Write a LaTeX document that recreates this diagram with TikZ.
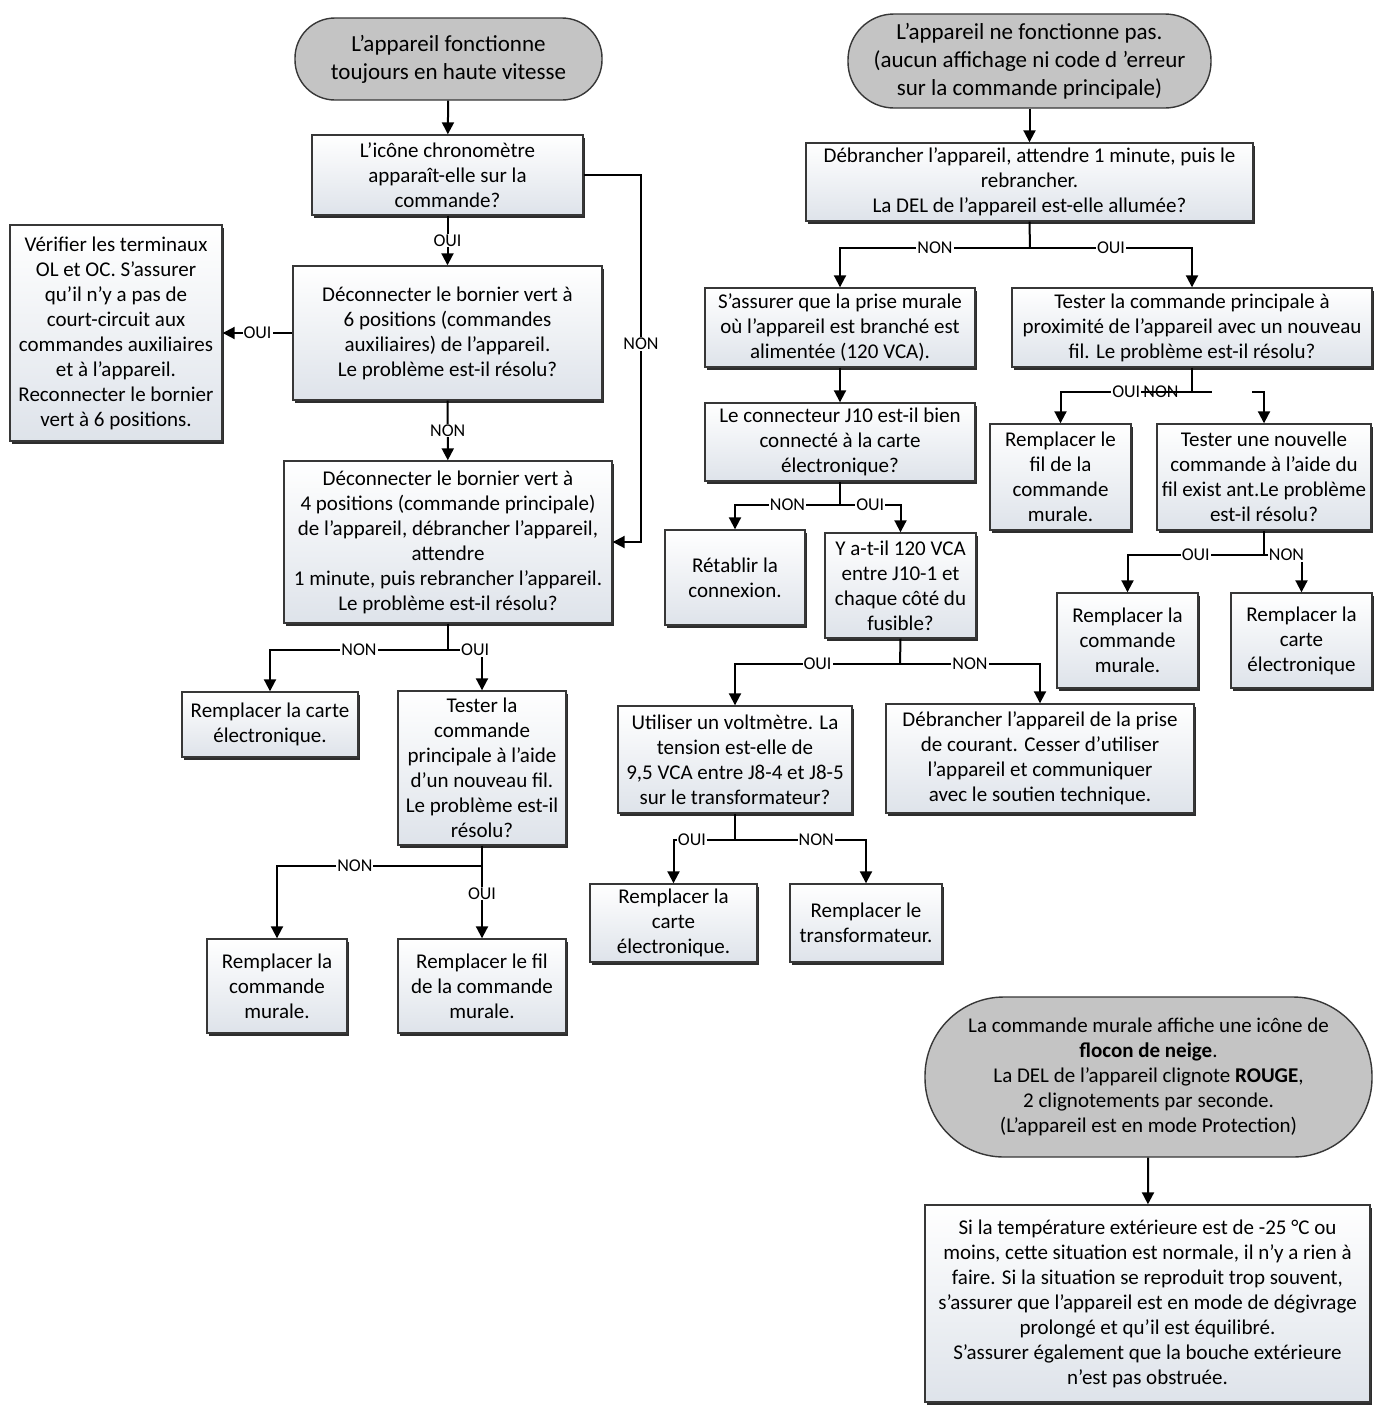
\documentclass[tikz,border=0pt]{standalone}
\usepackage{fontspec}
\setmainfont{Carlito}
\usetikzlibrary{arrows.meta,shadows}
\definecolor{termgray}{RGB}{196,196,196}
\definecolor{boxshade}{RGB}{222,227,234}
\definecolor{boxline}{RGB}{55,55,55}
\definecolor{shadowgray}{RGB}{45,45,45}

\begin{document}
\begin{tikzpicture}[x=1pt, y=-1pt, font=\fontsize{21}{25}\selectfont,
  box/.style={draw=boxline, line width=1.4pt, top color=white, bottom color=boxshade,
    general shadow={fill=shadowgray, shadow xshift=2pt, shadow yshift=-2.5pt},
    align=center, inner sep=2pt},
  term/.style={draw=boxline, line width=1.4pt, fill=termgray, align=center, inner sep=2pt},
  bigterm/.style={term, font=\fontsize{23}{28}\selectfont},
  wire/.style={line width=2pt},
  arr/.style={wire, -{Triangle[length=12pt,width=12pt]}},
  lbl/.style={fill=white, inner sep=1pt, font=\fontsize{18}{20}\selectfont}]
  \useasboundingbox[fill=white] (0,0) rectangle (1384,1409);
  % left: haute vitesse
  \node[bigterm, rounded corners=40pt, minimum width=307pt, minimum height=82pt] (t1) at (448.5, 59) {L’appareil fonctionne\\toujours en haute vitesse};
  \node[box, minimum width=271pt, minimum height=80pt] (b1) at (447.5, 175) {L’icône chronomètre\\apparaît-elle sur la\\commande?};
  \node[box, minimum width=212pt, minimum height=216pt] (b2) at (116, 333) {Vérifier les terminaux\\OL et OC. S’assurer\\qu’il n’y a pas de\\court-circuit aux\\commandes auxiliaires\\et à l’appareil.\\Reconnecter le bornier\\vert à 6 positions.};
  \node[box, minimum width=309pt, minimum height=134pt] (b3) at (447.5, 333) {Déconnecter le bornier vert à\\6 positions (commandes\\auxiliaires) de l’appareil.\\Le problème est-il résolu?};
  \node[box, minimum width=328pt, minimum height=162pt] (b4) at (448, 542) {Déconnecter le bornier vert à\\4 positions (commande principale)\\de l’appareil, débrancher l’appareil,\\attendre\\1 minute, puis rebrancher l’appareil.\\Le problème est-il résolu?};
  \node[box, minimum width=176pt, minimum height=65pt] (b5) at (270, 724.5) {Remplacer la carte\\électronique.};
  \node[box, minimum width=168pt, minimum height=154pt] (b6) at (482, 768) {Tester la\\commande\\principale à l’aide\\d’un nouveau fil.\\Le problème est-il\\résolu?};
  \node[box, minimum width=140pt, minimum height=94pt] (b7) at (277, 986) {Remplacer la\\commande\\murale.};
  \node[box, minimum width=168pt, minimum height=94pt] (b8) at (482, 986) {Remplacer le fil\\de la commande\\murale.};
  \coordinate (n1) at (641, 175);
  \coordinate (j4) at (448, 650);
  \coordinate (j6) at (482, 866);
  \draw[arr] (t1) -- (b1);
  \draw[arr] (b1) -- node[lbl]{OUI} (b3);
  \draw[arr] (b1.east) -- (n1) |- node[lbl, pos=.23]{NON} (b4.east);
  \draw[arr] (b3.west) -- node[lbl]{OUI} (b2.east);
  \draw[arr] (b3) -- node[lbl]{NON} (b4);
  \draw[wire] (b4.south) -- (j4);
  \draw[arr] (j4) -| node[lbl, pos=.25]{NON} (b5.north);
  \draw[arr] (j4) -| node[lbl, pos=.4]{OUI} (b6.north);
  \draw[wire] (b6.south) -- (j6);
  \draw[arr] (j6) -| node[lbl, pos=.31]{NON} (b7.north);
  \draw[arr] (j6) -- node[lbl, pos=.38]{OUI} (b8.north);
  % right: ne fonctionne pas
  \node[bigterm, rounded corners=46pt, minimum width=363pt, minimum height=94pt] (t2) at (1029.5, 61) {L’appareil ne fonctionne pas.\\(aucun affichage ni code d ’erreur\\sur la commande principale)};
  \node[box, minimum width=447pt, minimum height=78pt] (c1) at (1029.5, 182) {Débrancher l’appareil, attendre 1 minute, puis le\\rebrancher.\\La DEL de l’appareil est-elle allumée?};
  \node[box, minimum width=270pt, minimum height=79pt] (c2) at (840, 327.5) {S’assurer que la prise murale\\où l’appareil est branché est\\alimentée (120 VCA).};
  \node[box, minimum width=360pt, minimum height=79pt] (c3) at (1192, 327.5) {Tester la commande principale à\\proximité de l’appareil avec un nouveau\\fil. Le problème est-il résolu?};
  \node[box, minimum width=270pt, minimum height=78pt] (c4) at (840, 442) {Le connecteur J10 est-il bien\\connecté à la carte\\électronique?};
  \node[box, minimum width=140pt, minimum height=95pt] (c5) at (735, 577.5) {Rétablir la\\connexion.};
  \node[box, minimum width=151pt, minimum height=105pt] (c6) at (900.5, 585.5) {Y a-t-il 120 VCA\\entre J10-1 et\\chaque côté du\\fusible?};
  \node[box, minimum width=234pt, minimum height=107pt] (c7) at (735, 759.5) {Utiliser un voltmètre. La\\tension est-elle de\\9,5 VCA entre J8-4 et J8-5\\sur le transformateur?};
  \node[box, minimum width=308pt, minimum height=109pt] (c8) at (1040, 758.5) {Débrancher l’appareil de la prise\\de courant. Cesser d’utiliser\\l’appareil et communiquer\\avec le soutien technique.};
  \node[box, minimum width=167pt, minimum height=78pt] (c9) at (673.5, 923) {Remplacer la\\carte\\électronique.};
  \node[box, minimum width=152pt, minimum height=78pt] (c10) at (866, 923) {Remplacer le\\transformateur.};
  \node[box, minimum width=141pt, minimum height=106pt] (c11) at (1060.5, 477) {Remplacer le\\fil de la\\commande\\murale.};
  \node[box, minimum width=214pt, minimum height=106pt, inner xsep=0pt] (c12) at (1264, 477) {Tester une nouvelle\\commande à l’aide du\\fil exist ant.Le problème\\est-il résolu?};
  \node[box, minimum width=141pt, minimum height=95pt] (c13) at (1127.5, 640.5) {Remplacer la\\commande\\murale.};
  \node[box, minimum width=141pt, minimum height=95pt] (c14) at (1301.5, 640.5) {Remplacer la\\carte\\électronique};
  \coordinate (jc1) at (1030, 248);
  \coordinate (jc3) at (1192, 392);
  \coordinate (kc3) at (1212, 392);
  \coordinate (mc3) at (1252, 392);
  \coordinate (jc4) at (840, 505);
  \coordinate (jc6) at (900, 664);
  \coordinate (jc7) at (735, 840);
  \coordinate (jc12) at (1264, 555);
  \draw[arr] (t2) -- (c1);
  \draw[wire] (c1.south) -- (jc1);
  \draw[arr] (jc1) -| node[lbl, pos=.25]{NON} (c2.north);
  \draw[arr] (jc1) -| node[lbl, pos=.25]{OUI} (c3.north);
  \draw[arr] (c2) -- (c4);
  \draw[wire] (c3.south) -- (jc3) -- (kc3);
  \draw[arr] (jc3) -| node[lbl, pos=.25]{OUI} (c11.north);
  \node[font=\fontsize{18}{20}\selectfont] (nc3) at (1161, 392) {NON};
  \draw[arr] (mc3) -| (c12.north);
  \draw[wire] (c4.south) -- (jc4);
  \draw[arr] (jc4) -| node[lbl, pos=.25]{NON} (c5.north);
  \draw[arr] (jc4) -| node[lbl, pos=.25]{OUI} (c6.north);
  \draw[wire] (c6.south) -- (jc6);
  \draw[arr] (jc6) -| node[lbl, pos=.25]{OUI} (c7.north);
  \draw[arr] (jc6) -| node[lbl, pos=.25]{NON} (c8.north);
  \draw[wire] (c7.south) -- (jc7);
  \draw[arr] (jc7) -| node[lbl, pos=.35]{OUI} (c9.north);
  \draw[arr] (jc7) -| node[lbl, pos=.31]{NON} (c10.north);
  \draw[wire] (c12.south) -- (jc12);
  \draw[arr] (jc12) -| node[lbl, pos=.25]{OUI} (c13.north);
  \draw[arr] (jc12) -| node[lbl, pos=.3]{NON} (c14.north);
  % bottom right: protection
  \node[term, rounded corners=79pt, minimum width=447pt, minimum height=160pt] (t3) at (1148.5, 1077) {La commande murale affiche une icône de\\\textbf{flocon de neige}.\\La DEL de l’appareil clignote \textbf{ROUGE},\\2 clignotements par seconde.\\(L’appareil est en mode Protection)};
  \node[box, minimum width=445pt, minimum height=197pt] (c15) at (1147.5, 1303.5) {Si la température extérieure est de -25 °C ou\\moins, cette situation est normale, il n’y a rien à\\faire. Si la situation se reproduit trop souvent,\\s’assurer que l’appareil est en mode de dégivrage\\prolongé et qu’il est équilibré.\\S’assurer également que la bouche extérieure\\n’est pas obstruée.};
  \draw[arr] (t3) -- (c15);
\end{tikzpicture}
\end{document}
